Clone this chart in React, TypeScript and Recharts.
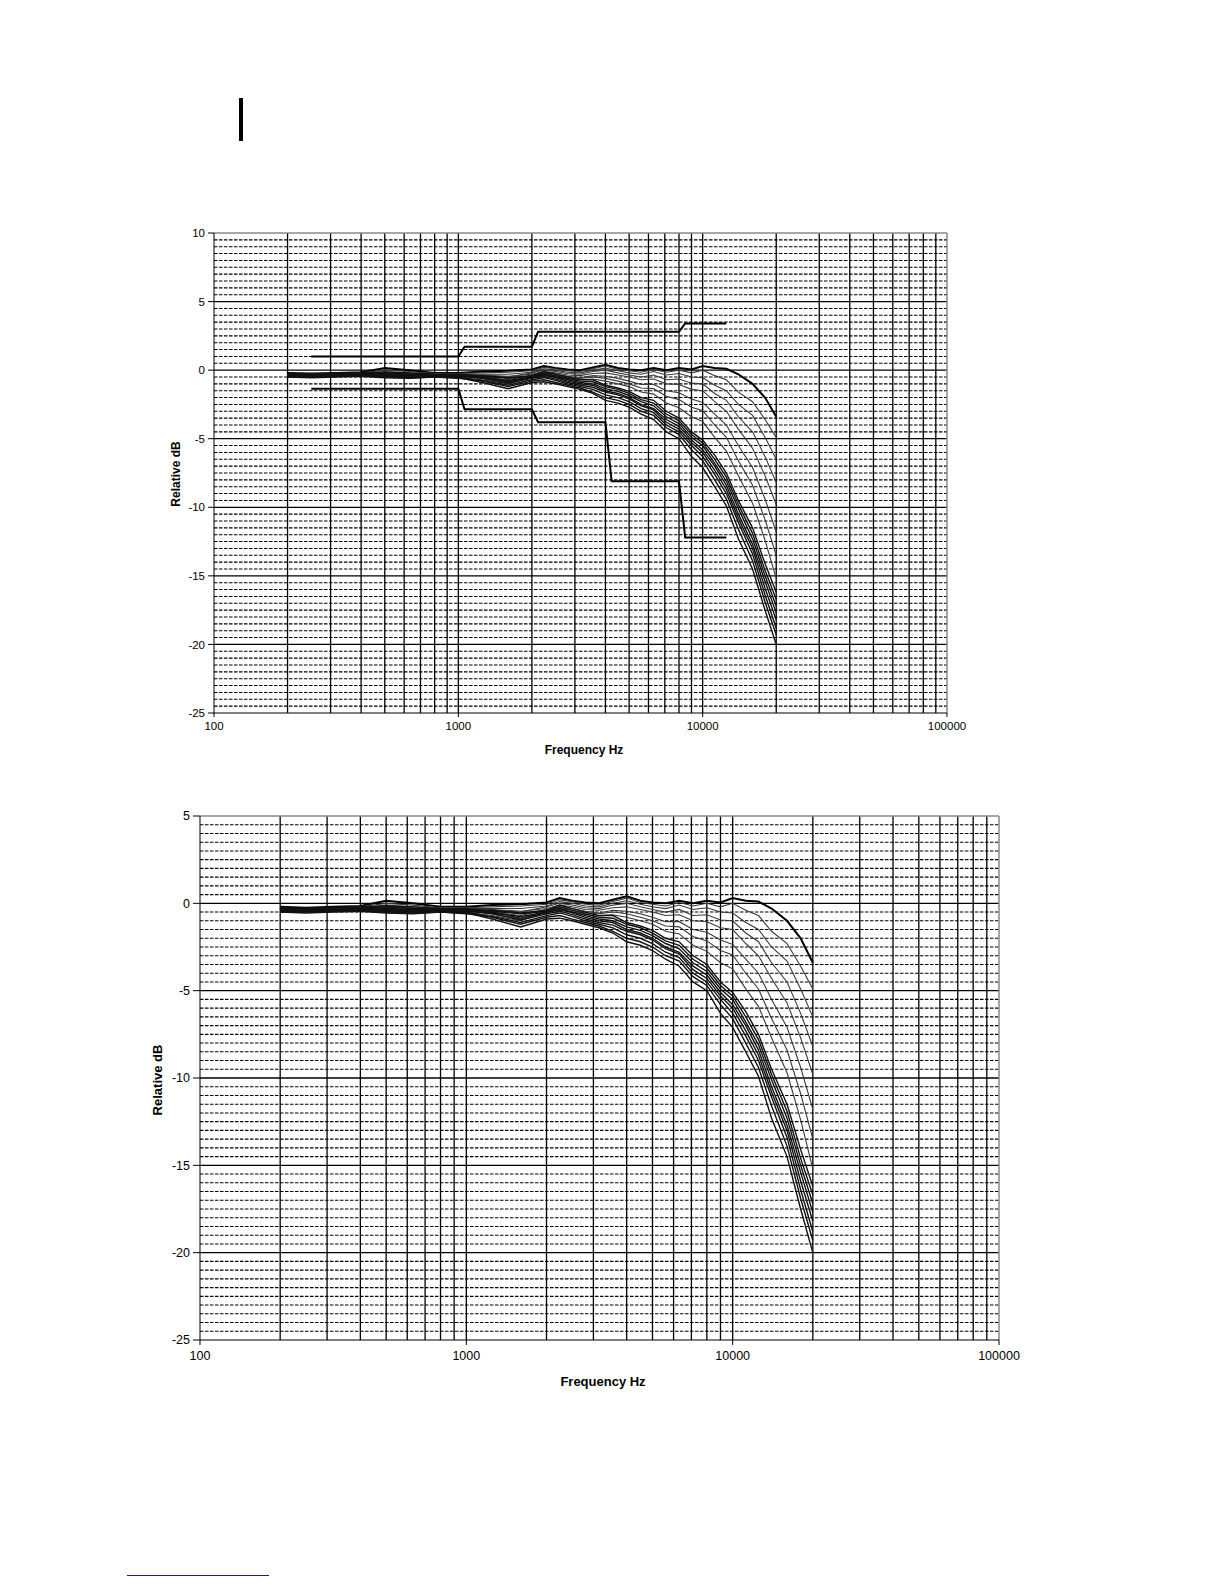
import {
  LineChart,
  Line,
  XAxis,
  YAxis,
  CartesianGrid,
  ReferenceLine,
} from 'recharts';

// frequency points (Hz) shared by all measured curves
const freqHz = [
  200, 250, 315, 400, 500, 630, 800, 1000, 1250, 1600,
  2000, 2240, 2500, 2800, 3150, 3550, 4000, 4500,
  5000, 5600, 6300, 7100, 8000, 9000, 10000, 11200, 12500, 14000, 16000, 18000, 20000,
];

// fanned curves (progressively earlier roll-off)
const curveF1 = [-0.2, -0.25, -0.2, -0.15, 0.15, 0.0, -0.2, -0.2, -0.1, -0.05, 0.05, 0.3, 0.15, 0.05, 0.0, 0.2, 0.4, 0.15, 0.05, 0.0, 0.15, 0.0, 0.15, 0.05, 0.3, 0.15, 0.1, -0.3, -1.0, -2.0, -3.4];
const curveF2 = [-0.3, -0.3, -0.25, -0.2, 0.0, -0.1, -0.25, -0.25, -0.2, -0.15, -0.05, 0.2, 0.1, -0.05, -0.1, 0.1, 0.3, 0.05, -0.05, -0.15, 0.05, -0.15, 0.0, -0.2, 0.0, -0.4, -0.7, -1.6, -2.3, -3.6, -4.9];
const curveF3 = [-0.35, -0.3, -0.3, -0.25, -0.1, -0.2, -0.3, -0.3, -0.3, -0.3, -0.15, 0.1, 0.0, -0.15, -0.2, 0.0, 0.15, -0.05, -0.2, -0.3, -0.1, -0.35, -0.25, -0.5, -0.55, -1.1, -1.5, -2.5, -3.3, -4.9, -6.5];
const curveF4 = [-0.3, -0.35, -0.3, -0.3, -0.2, -0.25, -0.3, -0.35, -0.4, -0.5, -0.2, 0.0, -0.1, -0.25, -0.3, -0.1, 0.0, -0.2, -0.35, -0.5, -0.35, -0.7, -0.65, -0.95, -1.0, -1.7, -2.2, -3.4, -4.5, -6.3, -8.2];
const curveF5 = [-0.4, -0.35, -0.35, -0.3, -0.25, -0.3, -0.35, -0.3, -0.35, -0.45, -0.3, -0.1, -0.2, -0.35, -0.4, -0.25, -0.2, -0.35, -0.5, -0.7, -0.65, -1.0, -1.05, -1.4, -1.5, -2.3, -3.0, -4.3, -5.7, -7.7, -9.8];
const curveF6 = [-0.35, -0.4, -0.35, -0.35, -0.3, -0.35, -0.4, -0.4, -0.5, -0.7, -0.35, -0.2, -0.3, -0.45, -0.55, -0.4, -0.45, -0.6, -0.8, -1.05, -1.05, -1.5, -1.65, -2.1, -2.35, -3.2, -4.0, -5.5, -7.1, -9.4, -11.8];
const curveF7 = [-0.45, -0.4, -0.4, -0.35, -0.35, -0.4, -0.35, -0.45, -0.6, -0.9, -0.4, -0.3, -0.4, -0.55, -0.6, -0.5, -0.6, -0.8, -1.0, -1.3, -1.35, -1.9, -2.15, -2.7, -2.95, -4.0, -4.9, -6.6, -8.4, -10.9, -13.5];
const curveF8 = [-0.4, -0.45, -0.4, -0.4, -0.4, -0.45, -0.45, -0.5, -0.7, -1.0, -0.5, -0.4, -0.5, -0.65, -0.7, -0.65, -0.8, -1.0, -1.2, -1.6, -1.75, -2.4, -2.75, -3.4, -3.75, -4.9, -5.9, -7.7, -9.7, -12.4, -15.2];

// dense bundle with the earliest roll-off
const curveB1 = [-0.5, -0.45, -0.45, -0.4, -0.5, -0.55, -0.5, -0.55, -0.9, -1.35, -0.9, -0.85, -1.0, -1.2, -1.4, -1.7, -2.2, -2.4, -2.7, -3.2, -3.6, -4.5, -5.0, -6.3, -7.1, -8.5, -9.9, -12.3, -14.5, -17.5, -20.0];
const curveB2 = [-0.45, -0.5, -0.45, -0.45, -0.45, -0.5, -0.45, -0.5, -0.8, -1.2, -0.8, -0.7, -0.9, -1.1, -1.3, -1.6, -2.0, -2.2, -2.5, -3.0, -3.3, -4.2, -4.7, -5.8, -6.6, -8.0, -9.4, -11.6, -13.9, -16.9, -19.3];
const curveB3 = [-0.5, -0.55, -0.5, -0.45, -0.55, -0.6, -0.5, -0.6, -0.75, -1.1, -0.7, -0.55, -0.75, -1.0, -1.2, -1.4, -1.8, -2.0, -2.3, -2.8, -3.1, -4.0, -4.5, -5.5, -6.3, -7.6, -9.0, -11.1, -13.4, -16.4, -18.8];
const curveB4 = [-0.35, -0.3, -0.3, -0.3, -0.3, -0.35, -0.35, -0.4, -0.6, -0.95, -0.6, -0.45, -0.65, -0.9, -1.1, -1.25, -1.6, -1.8, -2.1, -2.6, -2.9, -3.8, -4.3, -5.3, -6.0, -7.3, -8.7, -10.8, -13.0, -15.9, -18.2];
const curveB5 = [-0.25, -0.3, -0.25, -0.2, -0.15, -0.2, -0.3, -0.35, -0.5, -0.85, -0.55, -0.35, -0.55, -0.8, -1.0, -1.1, -1.5, -1.7, -2.0, -2.5, -2.8, -3.6, -4.1, -5.1, -5.8, -7.0, -8.4, -10.5, -12.7, -15.4, -17.7];
const curveB6 = [-0.4, -0.35, -0.35, -0.3, -0.35, -0.4, -0.4, -0.45, -0.55, -0.75, -0.5, -0.3, -0.5, -0.7, -0.9, -1.0, -1.35, -1.55, -1.85, -2.3, -2.6, -3.4, -3.9, -4.9, -5.5, -6.8, -8.1, -10.1, -12.3, -15.0, -17.2];
const curveB7 = [-0.3, -0.35, -0.3, -0.25, -0.2, -0.3, -0.35, -0.3, -0.45, -0.6, -0.45, -0.2, -0.4, -0.6, -0.8, -0.85, -1.2, -1.4, -1.7, -2.15, -2.4, -3.2, -3.7, -4.7, -5.3, -6.5, -7.8, -9.8, -11.9, -14.6, -16.7];
const curveB8 = [-0.45, -0.4, -0.4, -0.35, -0.4, -0.45, -0.4, -0.4, -0.4, -0.55, -0.4, -0.1, -0.3, -0.5, -0.7, -0.7, -1.1, -1.3, -1.55, -2.0, -2.2, -3.0, -3.5, -4.5, -5.1, -6.2, -7.5, -9.5, -11.5, -14.1, -16.2];

// tolerance limits (top chart only)
const upperLimitHz = [250, 1000, 1060, 2000, 2120, 8000, 8480, 12500];
const upperLimitDb = [1.0, 1.0, 1.7, 1.7, 2.8, 2.8, 3.4, 3.4];
const lowerLimitHz = [250, 1000, 1060, 2000, 2120, 4000, 4240, 8000, 8480, 12500];
const lowerLimitDb = [-1.35, -1.35, -2.85, -2.85, -3.8, -3.8, -8.1, -8.1, -12.2, -12.2];

const xTicks = [100, 1000, 10000, 100000];

const curves = [
  curveF1, curveF2, curveF3, curveF4, curveF5, curveF6, curveF7, curveF8,
  curveB1, curveB2, curveB3, curveB4, curveB5, curveB6, curveB7, curveB8,
];

const rows = freqHz.map((f, i) => {
  const row: Record<string, number> = { f };
  curves.forEach((c, k) => {
    row[`c${k}`] = c[i];
  });
  return row;
});

const upperRows = upperLimitHz.map((f, i) => ({ f, v: upperLimitDb[i] }));
const lowerRows = lowerLimitHz.map((f, i) => ({ f, v: lowerLimitDb[i] }));

// log grid: 2..9 of every decade plus the decades
const logGrid: number[] = [];
for (let d = 100; d < 100000; d *= 10) {
  for (let m = 1; m < 10; m++) {
    if (d * m > 100) logGrid.push(d * m);
  }
}

function yGrid(min: number, max: number) {
  const major: number[] = [];
  const minor: number[] = [];
  for (let v = min + 0.5; v < max - 0.01; v += 0.5) {
    const r = Math.round(v * 10) / 10;
    if (Math.abs(r % 5) < 0.01) major.push(r);
    else minor.push(r);
  }
  return { major, minor };
}

const font = '"Liberation Sans", Arial, sans-serif';

function curveStyle(k: number) {
  if (k === 0) return { stroke: '#000', width: 2 };
  if (k < 8) return { stroke: '#3a3a3a', width: 1.1 };
  return { stroke: '#111', width: 1.4 };
}

interface ResponseChartProps {
  left: number;
  top: number;
  width: number;
  plotHeight: number;
  yAxisWidth: number;
  rightMargin: number;
  yMin: number;
  yMax: number;
  fontSize: number;
  tickSize: number;
  showLimits?: boolean;
}

function ResponseChart({
  left, top, width, plotHeight, yAxisWidth, rightMargin, yMin, yMax, fontSize, tickSize, showLimits,
}: ResponseChartProps) {
  const { major, minor } = yGrid(yMin, yMax);
  const yTicks: number[] = [];
  for (let v = yMin; v <= yMax; v += 5) yTicks.push(v);
  const height = 20 + plotHeight + 60;

  return (
    <div style={{ position: 'absolute', left, top }}>
      <LineChart
        width={width}
        height={height}
        data={rows}
        margin={{ top: 20, right: rightMargin, left: 0, bottom: 0 }}
      >
        <CartesianGrid
          horizontalValues={minor}
          vertical={false}
          stroke="#000"
          strokeWidth={1.1}
          strokeDasharray="3.5 1.5"
        />
        <CartesianGrid
          horizontalValues={major}
          verticalValues={logGrid}
          stroke="#000"
          strokeWidth={1.3}
        />
        <ReferenceLine y={yMax} stroke="#888" strokeWidth={1.5} />
        <ReferenceLine x={100000} stroke="#888" strokeWidth={1.5} />
        <XAxis
          dataKey="f"
          type="number"
          scale="log"
          domain={[100, 100000]}
          ticks={xTicks}
          interval={0}
          allowDataOverflow
          height={60}
          tickSize={tickSize - 2}
          tickMargin={tickSize - 1}
          stroke="#000"
          tick={{ fontSize, fill: '#000', fontFamily: font }}
        />
        <YAxis
          type="number"
          domain={[yMin, yMax]}
          ticks={yTicks}
          interval={0}
          allowDataOverflow
          width={yAxisWidth}
          tickSize={tickSize}
          tickMargin={3}
          stroke="#000"
          tick={{ fontSize, fill: '#000', fontFamily: font }}
        />
        {curves.map((_, k) => {
          const s = curveStyle(k);
          return (
            <Line
              key={k}
              type="linear"
              dataKey={`c${k}`}
              stroke={s.stroke}
              strokeWidth={s.width}
              dot={false}
              isAnimationActive={false}
            />
          );
        })}
        {showLimits && (
          <Line
            data={upperRows}
            type="linear"
            dataKey="v"
            stroke="#000"
            strokeWidth={2}
            dot={false}
            isAnimationActive={false}
          />
        )}
        {showLimits && (
          <Line
            data={lowerRows}
            type="linear"
            dataKey="v"
            stroke="#000"
            strokeWidth={2}
            dot={false}
            isAnimationActive={false}
          />
        )}
      </LineChart>
    </div>
  );
}

const titleStyle = {
  position: 'absolute' as const,
  fontFamily: font,
  fontWeight: 700,
  color: '#000',
  whiteSpace: 'nowrap' as const,
  lineHeight: 1,
};

export default function App() {
  return (
    <div style={{ position: 'absolute', left: 0, top: 0, width: 1224, height: 1584, background: '#fff' }}>
      <div style={{ position: 'absolute', left: 239, top: 98, width: 4, height: 43, background: '#000' }} />

      <ResponseChart
        left={150}
        top={213}
        width={820}
        plotHeight={480}
        yAxisWidth={64}
        rightMargin={23}
        yMin={-25}
        yMax={10}
        fontSize={11.5}
        tickSize={6}
        showLimits
      />
      <div style={{ ...titleStyle, fontSize: 12, left: 176, top: 474, transform: 'translate(-50%, -50%) rotate(-90deg)' }}>
        Relative dB
      </div>
      <div style={{ ...titleStyle, fontSize: 12, left: 584, top: 750, transform: 'translate(-50%, -50%)' }}>
        Frequency Hz
      </div>

      <ResponseChart
        left={130}
        top={796}
        width={900}
        plotHeight={524}
        yAxisWidth={70}
        rightMargin={31}
        yMin={-25}
        yMax={5}
        fontSize={12.5}
        tickSize={7}
      />
      <div style={{ ...titleStyle, fontSize: 13, left: 157, top: 1080, transform: 'translate(-50%, -50%) rotate(-90deg)' }}>
        Relative dB
      </div>
      <div style={{ ...titleStyle, fontSize: 13, left: 603, top: 1381, transform: 'translate(-50%, -50%)' }}>
        Frequency Hz
      </div>

      <div style={{ position: 'absolute', left: 127, top: 1575, width: 142, height: 1, background: '#1a1a8c' }} />
    </div>
  );
}
